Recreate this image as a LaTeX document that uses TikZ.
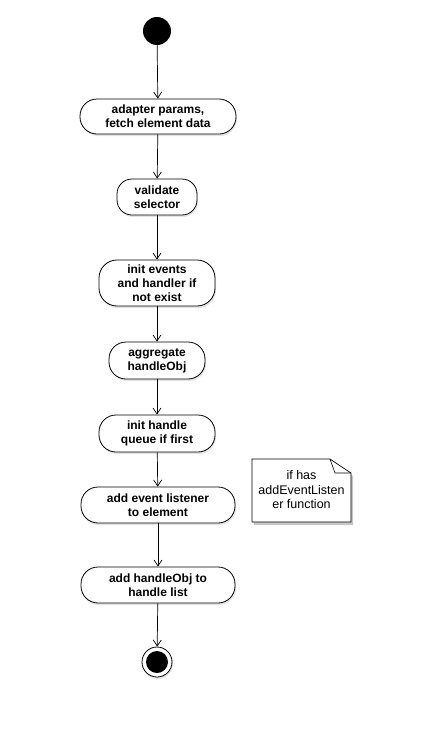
\documentclass[tikz,border=0pt]{standalone}
\usepackage{fontspec}
\setmainfont{Liberation Sans}
\usetikzlibrary{arrows.meta,shadows}
\begin{document}
\begin{tikzpicture}[x=1pt,y=-1pt,
  act/.style={draw=black, line width=0.8pt, fill=white, rounded corners=17pt,
    inner sep=0pt, align=center, font=\fontsize{12}{14}\selectfont\bfseries,
    drop shadow={opacity=0.22, shadow xshift=1pt, shadow yshift=-2pt}},
  flow/.style={draw=black, line width=0.7pt, -{Straight Barb[length=6pt,width=8pt]}},
  notetext/.style={align=center, font=\fontsize{12.5}{14.5}\selectfont}
]
\useasboundingbox (0,0) rectangle (423,750);

% initial node
\node[circle, fill=black, minimum size=28pt, inner sep=0pt] (start) at (157,31) {};

% actions
\node[act, minimum width=156pt, minimum height=35pt] (a1) at (158,116.5) {adapter params,\\fetch element data};
\node[act, minimum width=80pt, minimum height=36pt, rounded corners=15pt] (a2) at (157,197) {validate\\selector};
\node[act, minimum width=116pt, minimum height=46pt, rounded corners=18pt] (a3) at (157,283) {init events\\and handler if\\not exist};
\node[act, minimum width=96pt, minimum height=37pt] (a4) at (157,360.5) {aggregate\\handleObj};
\node[act, minimum width=116pt, minimum height=37pt] (a5) at (157,433.5) {init handle\\queue if first};
\node[act, minimum width=154pt, minimum height=36pt] (a6) at (158,505) {add event listener\\to element};
\node[act, minimum width=154pt, minimum height=36pt] (a7) at (158,585) {add handleObj to\\handle list};

% final node
\node[circle, draw=black, line width=0.8pt, fill=white, minimum size=30pt, inner sep=0pt,
  drop shadow={opacity=0.22, shadow xshift=1pt, shadow yshift=-2pt}] (end) at (157,662) {};
\node[circle, fill=black, minimum size=22pt, inner sep=0pt] (endin) at (end.center) {};

% control flow
\draw[flow] (start) -- (a1);
\draw[flow] (a1) -- (a2);
\draw[flow] (a2) -- (a3);
\draw[flow] (a3) -- (a4);
\draw[flow] (a4) -- (a5);
\draw[flow] (a5) -- (a6);
\draw[flow] (a6) -- (a7);
\draw[flow] (a7) -- (end);

% note
\fill[black, opacity=0.22] (254,462) -- (331,462) -- (353,476) -- (353,525) -- (254,525) -- cycle;
\draw[line width=0.7pt, fill=white] (252,459) -- (330,459) -- (351,473) -- (351,522) -- (252,522) -- cycle;
\draw[line width=0.6pt] (330,459) -- (335,473) -- (351,473);
\node[notetext] (note) at (301.5,490) {if has\\addEventListen\\er function};
\end{tikzpicture}
\end{document}
